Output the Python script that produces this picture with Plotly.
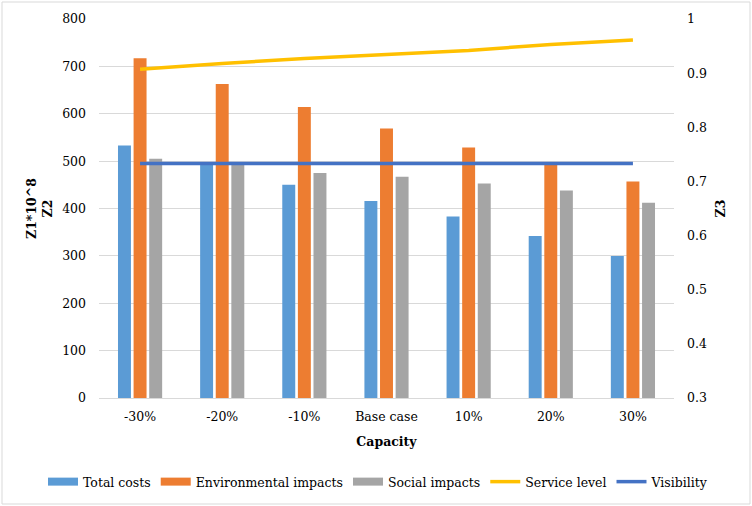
import plotly.graph_objects as go

categories = ["-30%", "-20%", "-10%", "Base case", "10%", "20%", "30%"]
total_costs = [533, 496, 450, 416, 383, 342, 300]
environmental = [717, 663, 614, 569, 529, 494, 457]
social = [505, 495, 475, 467, 453, 438, 412]
service_level = [0.907, 0.918, 0.927, 0.935, 0.942, 0.953, 0.961]
visibility = [0.733, 0.733, 0.733, 0.733, 0.733, 0.733, 0.733]

FONT = "DejaVu Serif"
PW, PH = 575, 379

bar_series = [("Total costs", total_costs, "#5b9bd5"),
              ("Environmental impacts", environmental, "#ed7d31"),
              ("Social impacts", social, "#a5a5a5")]
line_series = [("Service level", service_level, "#ffc000"),
               ("Visibility", visibility, "#4472c4")]

fig = go.Figure()
for name, vals, col in bar_series:
    fig.add_trace(go.Bar(name=name, x=categories, y=vals, showlegend=False,
                         legendgroup=name,
                         marker=dict(color=col, line=dict(width=0))))
for name, vals, col in line_series:
    fig.add_trace(go.Scatter(name=name, x=categories, y=vals, showlegend=False,
                             mode="lines", line=dict(color=col, width=3.5),
                             yaxis="y2"))
# legend entries (wide rectangles for bars, lines for lines)
for name, vals, col in bar_series:
    fig.add_trace(go.Scatter(name=name, x=[None], y=[None], mode="lines",
                             legendgroup=name,
                             line=dict(color=col, width=8), showlegend=True))
for name, vals, col in line_series:
    fig.add_trace(go.Scatter(name=name, x=[None], y=[None], mode="lines",
                             line=dict(color=col, width=3.5), showlegend=True,
                             yaxis="y2"))

fig.update_layout(
    width=752, height=506,
    margin=dict(l=99, r=78, t=19, b=108, autoexpand=False),
    paper_bgcolor="white", plot_bgcolor="white",
    font=dict(family=FONT, size=12.5, color="black"),
    barmode="group", bargap=0.43, bargroupgap=0.17,
    showlegend=True,
    legend=dict(orientation="h", x=(43 - 99) / PW, xanchor="left",
                y=-(467 - 398) / PH, yanchor="top",
                font=dict(family=FONT, size=12.5), itemwidth=30,
                traceorder="normal", tracegroupgap=0),
    xaxis=dict(
        title=dict(text="<b>Capacity</b>", standoff=14, font=dict(size=12.5)),
        showgrid=False, showline=True, linecolor="#d9d9d9", linewidth=1,
        ticks="", tickfont=dict(size=12.5), automargin=False,
        ticklabelstandoff=7,
    ),
    yaxis=dict(
        title=dict(text="<b>Z1*10^8<br>Z2</b>", standoff=6, font=dict(size=12.5)),
        range=[0, 800], dtick=100, showgrid=True, gridcolor="#d9d9d9",
        zeroline=False, showline=False, ticks="", tickfont=dict(size=12.5),
        automargin=False, ticklabelstandoff=12,
    ),
    yaxis2=dict(
        title=dict(text="<b>Z3</b>", standoff=10, font=dict(size=12.5)),
        overlaying="y", side="right", range=[0.3, 1.0], dtick=0.1,
        showgrid=False, zeroline=False, showline=False, ticks="",
        tickformat="~g", tickfont=dict(size=12.5), automargin=False,
        ticklabelstandoff=12,
    ),
    shapes=[dict(type="rect", xref="paper", yref="paper",
                 x0=-97 / PW, x1=1 + 76 / PW, y0=-106 / PH, y1=1 + 17 / PH,
                 line=dict(color="#d9d9d9", width=1), fillcolor="rgba(0,0,0,0)")],
)

fig.write_html("out.html", config={"displayModeBar": False},
               post_script="document.body.style.margin='0';document.body.style.overflow='hidden';")
